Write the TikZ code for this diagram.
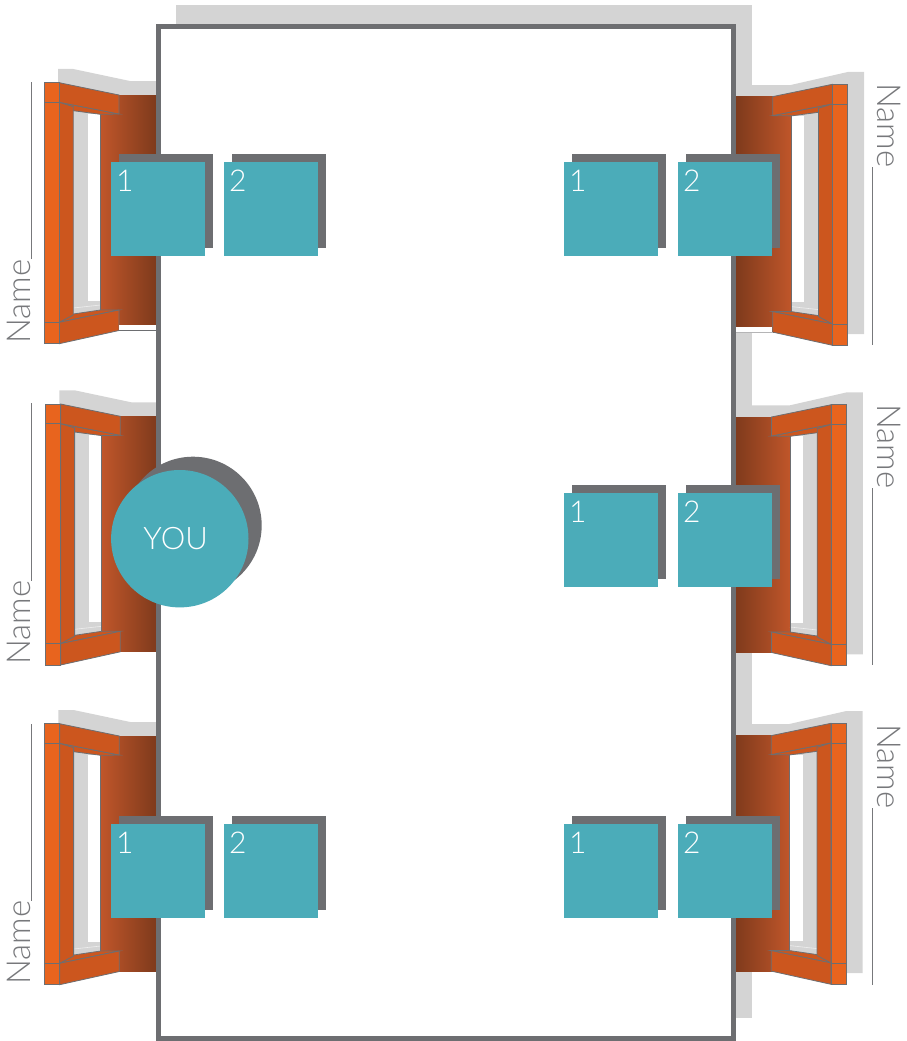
\documentclass[tikz,border=0pt]{standalone}
\usepackage{fontspec}
\setmainfont{Lato}[UprightFont=* Light]
\usepackage{xcolor}
\definecolor{teal}{HTML}{4BACB9}
\definecolor{darkgrey}{HTML}{6D6E71}
\definecolor{textgrey}{HTML}{77787B}
\definecolor{shadowgrey}{HTML}{D4D4D4}
\definecolor{frameorange}{HTML}{E8641E}
\definecolor{sideorange}{HTML}{CC561E}
\definecolor{walllight}{HTML}{C0562A}
\definecolor{wallmid}{HTML}{8C431F}
\definecolor{walldark}{HTML}{7E3A1C}
\tikzset{
  seat/.style={fill=teal,minimum size=94pt,inner sep=0pt,outer sep=0pt,label={[seatnum]north west:#1}},
  seatback/.style={fill=darkgrey,minimum size=94pt,inner sep=0pt,outer sep=0pt},
  seatnum/.style={anchor=north west,text=white,font=\fontsize{30}{30}\selectfont,inner xsep=5pt,inner ysep=8pt},
  namelabel/.style={text=textgrey,font=\fontsize{33}{33}\selectfont,inner sep=0pt},
  leader/.style={draw=textgrey,line width=0.9pt},
  wallL/.style={left color=walllight,middle color=wallmid,right color=walldark},
  wallR/.style={left color=walldark,middle color=wallmid,right color=walllight},
  part/.style={draw=darkgrey,line width=0.8pt}
}
% one window bay, drawn for the left wall; xscale -1 mirrors it
\newcommand{\windowbay}[4]{
\begin{scope}[shift={(#1,#2)},xscale=#3]
\path[#4] (100.5,95) rectangle (156,330.5);
\fill[shadowgrey] (73.3,110.7) -- (100.5,114.3) -- (100.5,310) -- (73.3,314) -- cycle;
\fill[white] (87.6,114) rectangle (100.5,300.7);
\draw[shadowgrey!40!white,line width=0.6pt] (73.3,308) -- (100.5,305);
\draw[part] (100.5,114.3) -- (100.5,310);
\draw[part,fill=sideorange] (59.3,102.3) -- (119,114) -- (100.5,114.3) -- (73.3,110.7) -- cycle;
\draw[part,fill=sideorange] (59.3,322.3) -- (119,310) -- (100.5,310) -- (73.3,314) -- cycle;
\draw[part,fill=sideorange] (59.3,102.3) -- (73.3,106.7) -- (73.3,315) -- (59.3,322.3) -- cycle;
\draw[part,fill=sideorange] (59.3,82.7) -- (119,95) -- (119,114) -- (59.3,102.3) -- cycle;
\draw[part,fill=sideorange] (59.3,322.3) -- (119,310) -- (119,330.5) -- (59.3,343.7) -- cycle;
\draw[part,fill=frameorange] (44,82.7) rectangle (59.3,343.7);
\draw[part] (44,102.3) -- (59.3,102.3);
\draw[part] (44,322.3) -- (59.3,322.3);
\end{scope}
}
\newcommand{\shadowleft}[2]{
\fill[shadowgrey,shift={(#1,#2)}] (58,69) -- (73.3,69) -- (130,81) -- (156,81) -- (156,100) -- (58,100) -- cycle;
}
\newcommand{\shadowright}[2]{
\fill[shadowgrey,shift={(#1,#2)},xscale=-1] (27.7,70.4) -- (44,70.4) -- (101,83.4) -- (156,83.4) -- (156,100) -- (44,100) -- (44,332.4) -- (27.7,332.4) -- cycle;
}

\begin{document}
\begin{tikzpicture}[x=1pt,y=-1pt]
\useasboundingbox (0,0) rectangle (907,1041);
% shadows behind the table and the bays
\fill[shadowgrey] (176,5) rectangle (752,1018);
\shadowleft{0}{0}
\shadowleft{1.3}{321.3}
\shadowleft{0.3}{641}
\shadowright{891.7}{1.6}
\shadowright{890.5}{322}
\shadowright{890.3}{640.6}
% bays
\windowbay{0}{0}{1}{wallL}
\windowbay{1.3}{321.3}{1}{wallL}
\windowbay{0.3}{641}{1}{wallL}
\windowbay{891.7}{1.6}{-1}{wallR}
\windowbay{890.5}{322}{-1}{wallR}
\windowbay{890.3}{640.6}{-1}{wallR}
\fill[white] (119.4,325) rectangle (156,330.1);
\draw[part] (119,330.5) -- (156,330.5);
\fill[white] (736,327) rectangle (772.3,332.4);
\draw[part,draw=shadowgrey!70!darkgrey] (772.7,331.9) -- (736,331.9);
% table
\draw[draw=darkgrey,line width=5.3pt,fill=white] (158.3,26.7) rectangle (733.7,1038.5);
% seats
\node[seatback] (a1b) at (166,201) {};
\node[seat=1] (a1) at (158,209) {};
\node[seatback] (a2b) at (279,201) {};
\node[seat=2] (a2) at (271,209) {};
\node[seatback] (b1b) at (619,201) {};
\node[seat=1] (b1) at (611,209) {};
\node[seatback] (b2b) at (733,201) {};
\node[seat=2] (b2) at (725,209) {};
\node[seatback] (c1b) at (619,532) {};
\node[seat=1] (c1) at (611,540) {};
\node[seatback] (c2b) at (733,532) {};
\node[seat=2] (c2) at (725,540) {};
\node[seatback] (d1b) at (166,863) {};
\node[seat=1] (d1) at (158,871) {};
\node[seatback] (d2b) at (279,863) {};
\node[seat=2] (d2) at (271,871) {};
\node[seatback] (e1b) at (619,863) {};
\node[seat=1] (e1) at (611,871) {};
\node[seatback] (e2b) at (733,863) {};
\node[seat=2] (e2) at (725,871) {};
% you
\node[circle,fill=darkgrey,minimum size=137.4pt,inner sep=0pt] (youb) at (193,525.4) {};
\node[circle,fill=teal,minimum size=137.4pt,inner sep=0pt] (you) at (179.8,538.7) {};
\node[text=white,font=\fontsize{31}{31}\selectfont,inner sep=0pt] (youtxt) at (175.7,539) {YOU};
% names
\node[namelabel,rotate=90,anchor=base west] (nl1) at (30,343.7) {Name};
\node[namelabel,rotate=90,anchor=base west] (nl2) at (30,665) {Name};
\node[namelabel,rotate=90,anchor=base west] (nl3) at (30,985) {Name};
\node[namelabel,rotate=-90,anchor=base west] (nr1) at (877,83) {Name};
\node[namelabel,rotate=-90,anchor=base west] (nr2) at (877,404) {Name};
\node[namelabel,rotate=-90,anchor=base west] (nr3) at (877,724) {Name};
\coordinate (tl1) at (31,82);
\coordinate (tl2) at (31,403);
\coordinate (tl3) at (31,724);
\coordinate (tr1) at (872,344.5);
\coordinate (tr2) at (872,665);
\coordinate (tr3) at (872,984.5);
\draw[leader] (nl1.base east -| tl1) -- (tl1);
\draw[leader] (nl2.base east -| tl2) -- (tl2);
\draw[leader] (nl3.base east -| tl3) -- (tl3);
\draw[leader] (nr1.base east -| tr1) -- (tr1);
\draw[leader] (nr2.base east -| tr2) -- (tr2);
\draw[leader] (nr3.base east -| tr3) -- (tr3);
\end{tikzpicture}
\end{document}
